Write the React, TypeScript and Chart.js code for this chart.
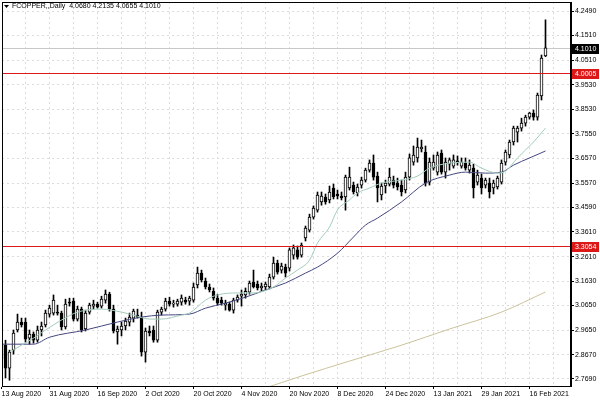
import React, { useEffect, useRef } from 'react';
import { Chart, registerables } from 'chart.js';

Chart.register(...registerables);

const FONT = "'Liberation Sans', Arial, sans-serif";
const TITLE = 'FCOPPER,,Daily  4.0680 4.2135 4.0655 4.1010';

// date labels every 12 bars (bar 0 = 13 Aug 2020)
const dateLabels = ['13 Aug 2020', '31 Aug 2020', '16 Sep 2020', '2 Oct 2020', '20 Oct 2020', '4 Nov 2020',
  '20 Nov 2020', '8 Dec 2020', '24 Dec 2020', '13 Jan 2021', '29 Jan 2021', '16 Feb 2021'];
// vertical grid every 6 bars
const xGridIdx = [0, 6, 12, 18, 24, 30, 36, 42, 48, 54, 60, 66, 72, 78, 84, 90, 96, 102, 108, 114, 120, 126, 132, 138];
const priceTicks = [4.249, 4.151, 4.051, 3.953, 3.853, 3.755, 3.657, 3.557, 3.459, 3.361, 3.261, 3.163,
  3.065, 2.965, 2.867, 2.769];

const opens = [2.850,
  2.905, 2.813, 2.885, 2.966, 2.998, 2.998, 2.933, 2.950, 2.925, 2.966,
  2.986, 3.030, 3.034, 3.038, 3.034, 2.978, 3.078, 3.082, 3.010, 3.050,
  2.970, 3.038, 3.062, 3.070, 3.062, 3.086, 3.110, 3.050, 2.958, 2.966,
  2.982, 2.998, 3.014, 3.026, 3.018, 2.877, 2.962, 2.966, 2.925, 3.038,
  3.050, 3.082, 3.070, 3.070, 3.078, 3.086, 3.082, 3.086, 3.147, 3.195,
  3.163, 3.139, 3.122, 3.094, 3.086, 3.066, 3.070, 3.046, 3.086, 3.102,
  3.107, 3.118, 3.159, 3.151, 3.135, 3.139, 3.139, 3.179, 3.235, 3.207,
  3.219, 3.215, 3.267, 3.288, 3.267, 3.336, 3.368, 3.420, 3.448, 3.481,
  3.501, 3.489, 3.537, 3.513, 3.505, 3.501, 3.537, 3.549, 3.517, 3.549,
  3.569, 3.609, 3.637, 3.585, 3.509, 3.545, 3.553, 3.569, 3.557, 3.549,
  3.529, 3.581, 3.641, 3.658, 3.694, 3.682, 3.561, 3.617, 3.601, 3.678,
  3.601, 3.633, 3.625, 3.646, 3.625, 3.637, 3.609, 3.617, 3.561, 3.577,
  3.549, 3.557, 3.537, 3.541, 3.561, 3.641, 3.670, 3.722, 3.762, 3.778,
  3.798, 3.822, 3.838, 3.822, 3.907, 4.068];

const highs = [2.925,
  2.925, 2.885, 2.966, 3.030, 3.014, 3.014, 2.966, 2.958, 2.982, 2.998,
  3.046, 3.066, 3.107, 3.066, 3.042, 3.090, 3.094, 3.094, 3.062, 3.058,
  3.046, 3.074, 3.086, 3.078, 3.102, 3.127, 3.118, 3.066, 2.982, 2.998,
  3.014, 3.034, 3.050, 3.050, 3.038, 2.974, 2.982, 2.982, 3.046, 3.058,
  3.094, 3.098, 3.086, 3.090, 3.107, 3.098, 3.102, 3.155, 3.219, 3.207,
  3.175, 3.151, 3.135, 3.110, 3.098, 3.086, 3.078, 3.094, 3.107, 3.127,
  3.135, 3.163, 3.207, 3.163, 3.155, 3.159, 3.191, 3.259, 3.247, 3.235,
  3.231, 3.296, 3.308, 3.304, 3.316, 3.384, 3.432, 3.465, 3.521, 3.521,
  3.513, 3.545, 3.553, 3.529, 3.521, 3.589, 3.621, 3.561, 3.553, 3.581,
  3.617, 3.650, 3.670, 3.601, 3.557, 3.569, 3.617, 3.585, 3.577, 3.569,
  3.601, 3.674, 3.706, 3.738, 3.730, 3.706, 3.658, 3.670, 3.682, 3.690,
  3.658, 3.658, 3.670, 3.666, 3.658, 3.658, 3.650, 3.633, 3.609, 3.593,
  3.577, 3.577, 3.569, 3.585, 3.650, 3.690, 3.730, 3.786, 3.786, 3.818,
  3.830, 3.842, 3.851, 3.919, 4.072, 4.2135];

const lows = [2.840,
  2.773, 2.764, 2.869, 2.958, 2.978, 2.917, 2.909, 2.913, 2.917, 2.942,
  2.978, 3.018, 3.026, 3.026, 2.966, 2.970, 3.062, 3.002, 3.002, 2.958,
  2.962, 3.030, 3.050, 3.054, 3.054, 3.074, 3.042, 2.954, 2.909, 2.942,
  2.966, 2.982, 2.998, 3.014, 2.861, 2.837, 2.942, 2.917, 2.917, 3.026,
  3.042, 3.062, 3.058, 3.062, 3.066, 3.070, 3.066, 3.078, 3.135, 3.159,
  3.131, 3.119, 3.086, 3.066, 3.066, 3.046, 3.042, 3.034, 3.078, 3.062,
  3.094, 3.110, 3.135, 3.127, 3.122, 3.127, 3.131, 3.171, 3.191, 3.195,
  3.179, 3.203, 3.251, 3.251, 3.259, 3.324, 3.360, 3.412, 3.440, 3.468,
  3.472, 3.477, 3.493, 3.493, 3.489, 3.448, 3.529, 3.513, 3.505, 3.537,
  3.561, 3.601, 3.569, 3.481, 3.489, 3.517, 3.545, 3.537, 3.529, 3.505,
  3.517, 3.569, 3.629, 3.641, 3.682, 3.545, 3.549, 3.609, 3.589, 3.593,
  3.577, 3.609, 3.617, 3.629, 3.617, 3.609, 3.597, 3.497, 3.549, 3.513,
  3.537, 3.497, 3.513, 3.533, 3.553, 3.629, 3.658, 3.710, 3.722, 3.766,
  3.786, 3.814, 3.810, 3.810, 3.891, 4.0655];

const closes = [2.905,
  2.813, 2.877, 2.954, 2.998, 2.986, 2.929, 2.950, 2.925, 2.966, 2.982,
  3.034, 3.054, 3.086, 3.034, 2.978, 3.070, 3.074, 3.010, 3.050, 2.966,
  3.034, 3.066, 3.070, 3.058, 3.090, 3.110, 3.050, 2.962, 2.970, 2.982,
  3.002, 3.018, 3.042, 3.018, 2.877, 2.962, 2.954, 2.925, 3.038, 3.050,
  3.082, 3.070, 3.074, 3.082, 3.094, 3.078, 3.094, 3.139, 3.195, 3.167,
  3.139, 3.127, 3.094, 3.074, 3.074, 3.074, 3.046, 3.086, 3.098, 3.110,
  3.122, 3.155, 3.139, 3.135, 3.143, 3.151, 3.179, 3.235, 3.199, 3.223,
  3.195, 3.288, 3.296, 3.259, 3.308, 3.376, 3.420, 3.456, 3.509, 3.505,
  3.481, 3.521, 3.501, 3.505, 3.497, 3.581, 3.581, 3.521, 3.541, 3.569,
  3.609, 3.637, 3.581, 3.537, 3.545, 3.557, 3.581, 3.549, 3.541, 3.521,
  3.581, 3.658, 3.670, 3.702, 3.702, 3.557, 3.641, 3.641, 3.670, 3.601,
  3.641, 3.650, 3.650, 3.641, 3.641, 3.617, 3.629, 3.537, 3.589, 3.537,
  3.569, 3.521, 3.557, 3.577, 3.637, 3.682, 3.722, 3.778, 3.778, 3.798,
  3.822, 3.838, 3.822, 3.911, 4.060, 4.101];

// moving averages (bar index, price)
const fastIdx = [2, 5, 8, 11, 15, 19, 25, 30, 33, 37, 40, 45, 47, 51, 54, 59, 63, 68, 71, 74,
  77, 79, 82, 84, 87, 89, 92, 95, 100, 104, 107, 112, 117, 120, 124, 126, 129, 133, 136];
const fastVal = [2.877, 2.905, 2.933, 2.966, 3.006, 3.038, 3.050, 3.038, 3.026, 3.010,
  3.010, 3.026, 3.034, 3.086, 3.107, 3.115, 3.115, 3.139, 3.175, 3.207,
  3.247, 3.316, 3.380, 3.449, 3.489, 3.517, 3.537, 3.557, 3.569, 3.585,
  3.617, 3.637, 3.641, 3.617, 3.597, 3.605, 3.658, 3.722, 3.778];
const midIdx = [0, 8, 12, 21, 29, 35, 40, 47, 51, 56, 61, 66, 71, 76, 79, 84, 88, 91, 94, 100,
  106, 112, 116, 121, 125, 128, 132, 136];
const midVal = [2.909, 2.909, 2.937, 2.966, 2.998, 3.018, 3.026, 3.030, 3.054, 3.074,
  3.098, 3.127, 3.155, 3.195, 3.219, 3.275, 3.340, 3.388, 3.416, 3.481,
  3.557, 3.589, 3.601, 3.597, 3.601, 3.629, 3.658, 3.686];
const slowIdx = [60, 65, 75, 87, 100, 112, 125, 136];
const slowVal = [2.704, 2.728, 2.781, 2.841, 2.905, 2.970, 3.038, 3.119];

const lastPrice = 4.101;
const redLevels = [4.0005, 3.3054];

const GRID = '#dcdcdc';
const RED = 'rgb(220, 24, 24)';

const mtPlugin = {
  id: 'mtDecor',
  beforeDatasetsDraw(chart: any) {
    const { ctx, chartArea: a, scales } = chart;
    const y = scales.y;
    ctx.save();
    ctx.setLineDash([]);
    ctx.globalAlpha = 1;
    ctx.lineWidth = 1;
    const yb = Math.round(y.getPixelForValue(lastPrice)) + 0.5;
    ctx.strokeStyle = '#c8c8c8';
    ctx.beginPath();
    ctx.moveTo(a.left, yb);
    ctx.lineTo(a.right, yb);
    ctx.stroke();
    ctx.restore();
  },
  afterDatasetsDraw(chart: any) {
    const { ctx, chartArea: a, scales } = chart;
    const y = scales.y;
    ctx.save();
    ctx.setLineDash([]);
    ctx.globalAlpha = 1;
    for (const lv of redLevels) {
      const py = Math.round(y.getPixelForValue(lv));
      ctx.fillStyle = RED;
      ctx.fillRect(a.left + 1, py, a.right - a.left - 1, 1);
    }
    ctx.restore();
  },
  afterDraw(chart: any) {
    const { ctx, chartArea: a, scales } = chart;
    const y = scales.y;
    ctx.save();
    ctx.setLineDash([]);
    // frame
    ctx.strokeStyle = '#000';
    ctx.lineWidth = 1;
    ctx.strokeRect(a.left + 0.5, a.top + 0.5, a.right - a.left - 1, a.bottom - a.top);
    // price boxes
    ctx.font = `7px ${FONT}`;
    ctx.textBaseline = 'middle';
    ctx.textAlign = 'left';
    const boxes: [number, string][] = [[lastPrice, '#000'], [redLevels[0], RED], [redLevels[1], RED]];
    for (const [v, col] of boxes) {
      const py = Math.round(y.getPixelForValue(v));
      ctx.fillStyle = col;
      ctx.fillRect(a.right + 1, py - 4, 27, 10);
      ctx.fillStyle = '#fff';
      ctx.fillText(v.toFixed(4), a.right + 4, py + 1);
    }
    // title
    ctx.fillStyle = '#000';
    ctx.beginPath();
    ctx.moveTo(4, 5);
    ctx.lineTo(9, 5);
    ctx.lineTo(6.5, 8);
    ctx.closePath();
    ctx.fill();
    ctx.fillText(TITLE, 12, 6.5);
    ctx.restore();
  },
};

export default function App() {
  const ref = useRef<HTMLCanvasElement>(null);
  useEffect(() => {
    const canvas = ref.current;
    if (!canvas) return;
    const chart = new Chart(canvas, {
      type: 'bar',
      data: {
        datasets: [
          {
            type: 'line', label: 'MA fast',
            data: fastIdx.map((x, k) => ({ x, y: fastVal[k] })),
            borderColor: '#a3cbbb', borderWidth: 1, pointRadius: 0, cubicInterpolationMode: 'monotone', order: 0,
          },
          {
            type: 'line', label: 'MA mid',
            data: midIdx.map((x, k) => ({ x, y: midVal[k] })),
            borderColor: '#44477f', borderWidth: 1, pointRadius: 0, cubicInterpolationMode: 'monotone', order: 0,
          },
          {
            type: 'line', label: 'MA slow',
            data: slowIdx.map((x, k) => ({ x, y: slowVal[k] })),
            borderColor: '#cbc29c', borderWidth: 1, pointRadius: 0, cubicInterpolationMode: 'monotone', order: 0,
          },
          {
            type: 'bar', label: 'body',
            data: opens.map((o, i) => ({ x: i, y: [o, closes[i]] })),
            backgroundColor: opens.map((o, i) => (closes[i] >= o ? '#ffffff' : '#000000')),
            borderColor: '#000', borderWidth: 1, borderSkipped: false, barThickness: 3, grouped: false, order: 1,
          },
          {
            type: 'bar', label: 'wick',
            data: lows.map((l, i) => ({ x: i, y: [l, highs[i]] })),
            backgroundColor: '#000', borderWidth: 0, barThickness: 1, grouped: false, order: 2,
          },
        ] as any,
      },
      options: {
        responsive: false,
        animation: false,
        devicePixelRatio: 1,
        layout: { padding: { left: 2, top: 2, right: 0, bottom: 0 } },
        plugins: { legend: { display: false }, tooltip: { enabled: false }, title: { display: false } },
        scales: {
          x: {
            type: 'linear', position: 'bottom', min: 0.125, max: 142.375, offset: false,
            afterBuildTicks: (s: any) => { s.ticks = xGridIdx.map((v) => ({ value: v })); },
            afterFit: (s: any) => { s.height = 14; s.paddingLeft = 0; s.paddingRight = 0; },
            ticks: {
              autoSkip: false, maxRotation: 0, minRotation: 0, align: 'start', padding: 1, color: '#000',
              font: { family: FONT, size: 7 },
              callback: (v: any) => (Number(v) % 12 === 0 ? dateLabels[Number(v) / 12] : ''),
            },
            grid: {
              offset: false, lineWidth: 1, tickLength: 3, tickBorderDash: [],
              color: (c: any) => (c.tick && c.tick.value === 0 ? 'rgba(0,0,0,0)' : GRID),
              tickColor: (c: any) => (c.tick && c.tick.value % 12 === 0 ? '#000' : 'rgba(0,0,0,0)'),
            },
            border: { display: true, color: '#000', dash: [2, 3] },
          },
          y: {
            type: 'linear', position: 'right', min: 2.7408, max: 4.2852,
            afterBuildTicks: (s: any) => { s.ticks = priceTicks.map((v) => ({ value: v })); },
            afterFit: (s: any) => { s.width = 29; s.paddingTop = 0; s.paddingBottom = 0; },
            ticks: {
              padding: 1, color: '#000', font: { family: FONT, size: 7 },
              callback: (v: any) => Number(v).toFixed(4),
            },
            grid: { lineWidth: 1, tickLength: 3, tickBorderDash: [], color: GRID, tickColor: '#000' },
            border: { display: true, color: '#000', dash: [2, 3] },
          },
        },
      } as any,
      plugins: [mtPlugin],
    });
    return () => chart.destroy();
  }, []);
  return (
    <div style={{ position: 'fixed', left: 0, top: 0, width: 600, height: 400, background: '#fff' }}>
      <canvas ref={ref} width={600} height={400} style={{ display: 'block', width: 600, height: 400 }} />
    </div>
  );
}
